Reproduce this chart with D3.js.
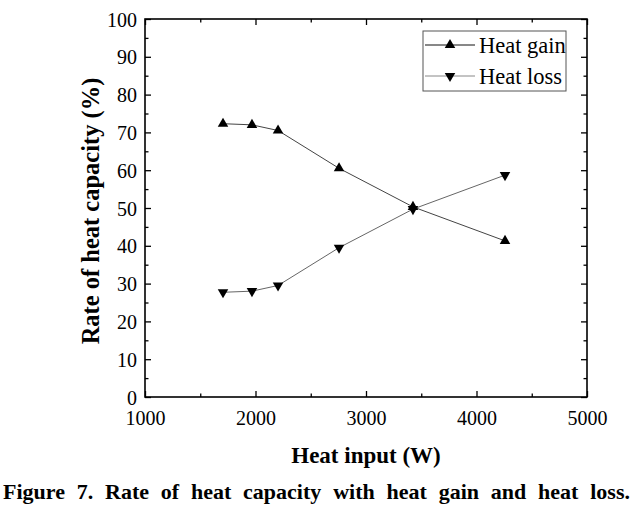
<!DOCTYPE html>
<html><head><meta charset="utf-8">
<script src="https://cdn.jsdelivr.net/npm/d3@7"></script>
<style>body{margin:0;background:#fff}svg{display:block}</style>
</head><body>
<svg id="c" width="636" height="512"></svg>
<script>
const heatInput = [1706, 1968, 2204, 2756, 3425, 4258];
const heatGain = [72.3, 72.0, 70.5, 60.5, 50.3, 41.3];
const heatLoss = [27.7, 28.0, 29.5, 39.5, 49.7, 58.7];
const seriesNames = ["Heat gain", "Heat loss"];
const xTicks = [1000, 2000, 3000, 4000, 5000];
const yTicks = [0, 10, 20, 30, 40, 50, 60, 70, 80, 90, 100];
const xTitle = "Heat input (W)";
const yTitle = "Rate of heat capacity (%)";
const caption = "Figure 7. Rate of heat capacity with heat gain and heat loss.";

const svg = d3.select("#c");
const L = 145, R = 587, T = 19, B = 397;
const x = d3.scaleLinear().domain([1000, 5000]).range([L, R]);
const y = d3.scaleLinear().domain([0, 100]).range([B, T]);
const serif = "Liberation Serif, Tinos, Times New Roman, Times, serif";

// axes
const g = svg.append("g");
const mk = (axis, tr) => {
  const a = g.append("g").attr("transform", tr).call(axis);
  a.select(".domain").remove();
  a.selectAll("line").attr("stroke", "#000").attr("stroke-width", 1.3);
  a.selectAll("text").attr("font-family", serif).attr("font-size", 20).attr("fill", "#000");
  return a;
};
const xMinor = d3.range(1500, 5000, 1000);
const yMinor = d3.range(5, 100, 10);
const xb = mk(d3.axisBottom(x).tickValues(xTicks).tickSize(-6).tickPadding(9).tickFormat(d3.format("d")), `translate(0,${B})`);
mk(d3.axisBottom(x).tickValues(xMinor).tickSize(-3.5).tickFormat(""), `translate(0,${B})`);
mk(d3.axisTop(x).tickValues(xTicks).tickSize(-6).tickFormat(""), `translate(0,${T})`);
mk(d3.axisTop(x).tickValues(xMinor).tickSize(-3.5).tickFormat(""), `translate(0,${T})`);
const yl = mk(d3.axisLeft(y).tickValues(yTicks).tickSize(-6).tickPadding(8).tickFormat(d3.format("d")), `translate(${L},0)`);
mk(d3.axisLeft(y).tickValues(yMinor).tickSize(-3.5).tickFormat(""), `translate(${L},0)`);
mk(d3.axisRight(y).tickValues(yTicks).tickSize(-6).tickFormat(""), `translate(${R},0)`);
mk(d3.axisRight(y).tickValues(yMinor).tickSize(-3.5).tickFormat(""), `translate(${R},0)`);
xb.selectAll("text").attr("dy", "0.95em");
yl.selectAll("text").attr("dy", "0.35em");

svg.append("rect").attr("x", L).attr("y", T).attr("width", R - L).attr("height", B - T)
  .attr("fill", "none").attr("stroke", "#000").attr("stroke-width", 1.6);

// series
const colors = ["#444", "#666"];
const syms = [d3.symbolTriangle, d3.symbolTriangle];
const rot = [0, 180];
[heatGain, heatLoss].forEach((vals, i) => {
  const pts = heatInput.map((h, k) => [h, vals[k]]);
  svg.append("path").attr("d", d3.line().x(d => x(d[0])).y(d => y(d[1]))(pts))
    .attr("fill", "none").attr("stroke", colors[i]).attr("stroke-width", 1);
  svg.selectAll(null).data(pts).enter().append("path")
    .attr("d", d3.symbol().type(syms[i]).size(48))
    .attr("transform", d => `translate(${x(d[0])},${y(d[1])}) rotate(${rot[i]})`)
    .attr("fill", "#000");
});

// legend
const lg = svg.append("g");
lg.append("rect").attr("x", 423).attr("y", 31).attr("width", 143).attr("height", 60)
  .attr("fill", "#fff").attr("stroke", "#555").attr("stroke-width", 1);
const legColors = ["#111", "#888"];
seriesNames.forEach((n, i) => {
  const yy = 45 + i * 31;
  lg.append("line").attr("x1", 425).attr("x2", 475).attr("y1", yy).attr("y2", yy)
    .attr("stroke", legColors[i]).attr("stroke-width", 1);
  lg.append("path").attr("d", d3.symbol().type(syms[i]).size(48)())
    .attr("transform", `translate(450,${yy}) rotate(${rot[i]})`).attr("fill", "#000");
  lg.append("text").attr("x", 479).attr("y", yy).attr("dy", "0.35em")
    .attr("font-family", serif).attr("font-size", 22.5).text(n);
});

// titles
svg.append("text").attr("x", (L + R) / 2).attr("y", 463).attr("text-anchor", "middle")
  .attr("font-family", serif).attr("font-weight", "bold").attr("font-size", 23).text(xTitle);
svg.append("text").attr("transform", `translate(99,${(72 + 350) / 2}) rotate(-90)`)
  .attr("text-anchor", "middle").attr("font-family", serif).attr("font-weight", "bold")
  .attr("font-size", 24.5).text(yTitle);

// caption, justified
const words = caption.split(" ");
const cg = svg.append("g");
const tw = words.map(w => cg.append("text").attr("y", 499).attr("font-family", serif)
  .attr("font-weight", "bold").attr("font-size", 22).text(w));
const widths = tw.map(t => t.node().getComputedTextLength());
const total = widths.reduce((a, b) => a + b, 0);
const x0 = 3, x1 = 630;
const gap = (x1 - x0 - total) / (words.length - 1);
let cx = x0;
tw.forEach((t, i) => { t.attr("x", cx); cx += widths[i] + gap; });
</script>
</body></html>
